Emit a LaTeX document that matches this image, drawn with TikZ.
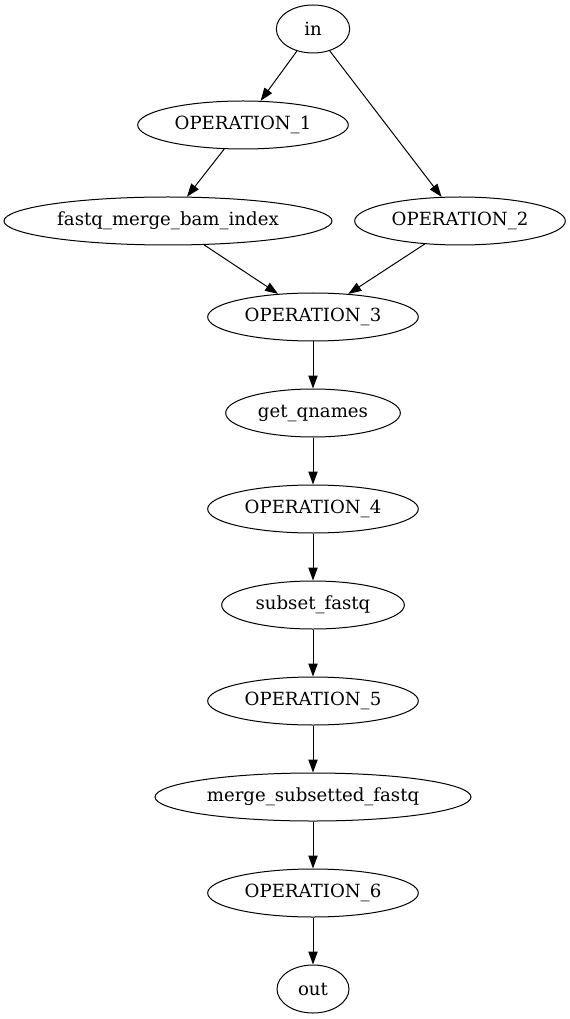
\documentclass[tikz,border=0pt]{standalone}
\usepackage{fontspec}
\setmainfont{DejaVu Serif}
\usetikzlibrary{shapes.geometric,arrows.meta}
\begin{document}
\begin{tikzpicture}[x=0.75pt,y=-0.75pt,
  op/.style={ellipse,draw,line width=0.75pt,inner sep=0pt,minimum height=36pt,
    font=\fontsize{13.6}{16}\selectfont},
  edge/.style={-{Triangle[length=9.75pt,width=7pt]},line width=0.75pt}]
\useasboundingbox (0,0) rectangle (570,1019);
% workflow steps
\node[op,minimum width=55pt]  (in)   at (313,29)  {in};
\node[op,minimum width=158pt] (op1)  at (243,125) {OPERATION\_1};
\node[op,minimum width=246pt] (fmbi) at (168,221) {fastq\_merge\_bam\_index};
\node[op,minimum width=158pt] (op2)  at (460,221) {OPERATION\_2};
\node[op,minimum width=158pt] (op3)  at (313,317) {OPERATION\_3};
\node[op,minimum width=131pt] (gq)   at (313,413) {get\_qnames};
\node[op,minimum width=158pt] (op4)  at (313,509) {OPERATION\_4};
\node[op,minimum width=137pt] (sf)   at (313,605) {subset\_fastq};
\node[op,minimum width=158pt] (op5)  at (313,701) {OPERATION\_5};
\node[op,minimum width=237pt] (msf)  at (313,797) {merge\_subsetted\_fastq};
\node[op,minimum width=158pt] (op6)  at (313,893) {OPERATION\_6};
\node[op,minimum width=54pt]  (out)  at (313,989) {out};
% data flow
\draw[edge] (in) -- (op1);
\draw[edge] (in) -- (op2);
\draw[edge] (op1) -- (fmbi);
\draw[edge] (fmbi) -- (op3);
\draw[edge] (op2) -- (op3);
\draw[edge] (op3) -- (gq);
\draw[edge] (gq) -- (op4);
\draw[edge] (op4) -- (sf);
\draw[edge] (sf) -- (op5);
\draw[edge] (op5) -- (msf);
\draw[edge] (msf) -- (op6);
\draw[edge] (op6) -- (out);
\end{tikzpicture}
\end{document}
